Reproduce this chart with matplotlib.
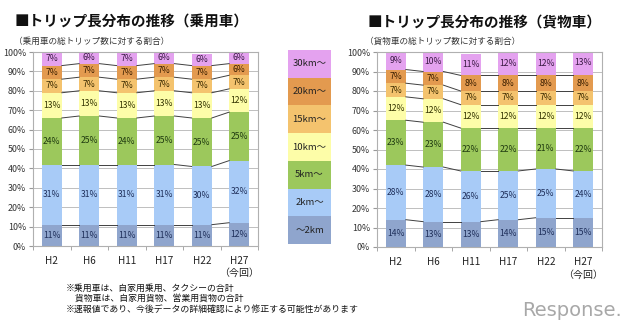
import matplotlib
matplotlib.use("Agg")
import matplotlib.pyplot as plt
import numpy as np

plt.rcParams['font.family'] = ['Noto Sans CJK JP', 'DejaVu Sans']

years = ["H2", "H6", "H11", "H17", "H22", "H27"]
bands = ["～2km", "2km～", "5km～", "10km～", "15km～", "20km～", "30km～"]
colors = ["#8fa5cd", "#a8cbf7", "#9cc85c", "#fdfda8", "#f4c36e", "#e39a4f", "#e4a2ef"]
text_colors = ["#1f2f5a", "#1f2f5a", "#1f3a10", "#333300", "#3a2a00", "#3a1e00", "#3a1a44"]

# share of trips by trip length (%), bottom band first
car_shares = [
    [11, 11, 11, 11, 11, 12],   # ~2km
    [31, 31, 31, 31, 30, 32],   # 2km~
    [24, 25, 24, 25, 25, 25],   # 5km~
    [13, 13, 13, 13, 13, 12],   # 10km~
    [7, 7, 7, 7, 7, 7],         # 15km~
    [7, 7, 7, 7, 7, 6],         # 20km~
    [7, 6, 7, 6, 6, 6],         # 30km~
]
truck_shares = [
    [14, 13, 13, 14, 15, 15],
    [28, 28, 26, 25, 25, 24],
    [23, 23, 22, 22, 21, 22],
    [12, 12, 12, 12, 12, 12],
    [7, 7, 7, 7, 7, 7],
    [7, 7, 8, 8, 8, 8],
    [9, 10, 11, 12, 12, 13],
]

titles = ["■トリップ長分布の推移（乗用車）", "■トリップ長分布の推移（貨物車）"]
subtitles = ["（乗用車の総トリップ数に対する割合）", "（貨物車の総トリップ数に対する割合）"]
notes = ["※乗用車は、自家用乗用、タクシーの合計",
         "　貨物車は、自家用貨物、営業用貨物の合計",
         "※速報値であり、今後データの詳細確認により修正する可能性があります"]

W, H = 640, 328
fig = plt.figure(figsize=(W / 100, H / 100), dpi=100)


def px_axes(x0, y0, x1, y1):
    return fig.add_axes([x0 / W, 1 - y1 / H, (x1 - x0) / W, (y1 - y0) / H])


def stacked(ax, shares):
    data = np.array(shares, dtype=float)
    x = np.arange(len(years))
    bw = 0.54
    bottom = np.zeros(len(years))
    ax.set_axisbelow(True)
    for k in range(len(bands)):
        ax.bar(x, data[k], bw, bottom=bottom, color=colors[k], zorder=2)
        for i in range(len(years)):
            ax.text(x[i], bottom[i] + data[k][i] / 2, f"{int(data[k][i])}%",
                    ha="center", va="center", fontsize=6.2,
                    color=text_colors[k], zorder=4)
        bottom = bottom + data[k]
        if k < len(bands) - 1:
            for i in range(len(years) - 1):
                ax.plot([x[i] + bw / 2, x[i + 1] - bw / 2], [bottom[i], bottom[i + 1]],
                        color="#404040", lw=0.7, zorder=3)
    ax.set_xlim(-0.5, len(years) - 0.5)
    ax.set_ylim(0, 100)
    ax.set_yticks(np.arange(0, 101, 10))
    ax.set_yticklabels([f"{v}%" for v in range(0, 101, 10)], fontsize=6.4, color="#333333")
    ax.yaxis.grid(True, color="#bfbfbf", lw=0.7)
    ax.set_xticks(x)
    ax.set_xticklabels(years, fontsize=7.2, color="#222222")
    ax.set_xticks(np.arange(-0.5, len(years), 1), minor=True)
    ax.tick_params(axis="x", which="major", length=0, pad=7)
    ax.tick_params(axis="x", which="minor", length=3, color="#999999")
    ax.tick_params(axis="y", length=3, color="#999999", pad=2)
    for s in ax.spines.values():
        s.set_color("#b0b0b0")
        s.set_linewidth(0.8)
    ax.text(len(years) - 1, -11.5, "（今回）", ha="center", va="top", fontsize=7.2,
            color="#222222", transform=ax.transData, clip_on=False)


ax1 = px_axes(33, 52, 258, 246)
stacked(ax1, car_shares)
ax2 = px_axes(377, 52, 602, 247)
stacked(ax2, truck_shares)

fig.text(15 / W, 1 - 22 / H, titles[0], fontsize=10.5, fontweight="bold", va="center", color="#111111")
fig.text(368 / W, 1 - 22 / H, titles[1], fontsize=10.5, fontweight="bold", va="center", color="#111111")
fig.text(14 / W, 1 - 41 / H, subtitles[0], fontsize=6.2, va="center", color="#333333")
fig.text(365 / W, 1 - 41 / H, subtitles[1], fontsize=6.2, va="center", color="#333333")

# colour key
lg = px_axes(288, 50, 331, 244)
n = len(bands)
for k in range(n):
    lg.add_patch(plt.Rectangle((0, k), 1, 1, color=colors[k], lw=0))
    lg.text(0.5, k + 0.5, bands[k], ha="center", va="center", fontsize=6.8, color="#222222")
lg.set_xlim(0, 1)
lg.set_ylim(0, n)
lg.axis("off")

for j, line in enumerate(notes):
    fig.text(66 / W, 1 - (288 + j * 10.5) / H, line, fontsize=6.4, va="center", color="#111111")

fig.text(572 / W, 1 - 311 / H, "Response.", fontsize=14, ha="center", va="center",
         color="#a8a8a8", family="DejaVu Sans")

fig.savefig("out.png", dpi=100)
